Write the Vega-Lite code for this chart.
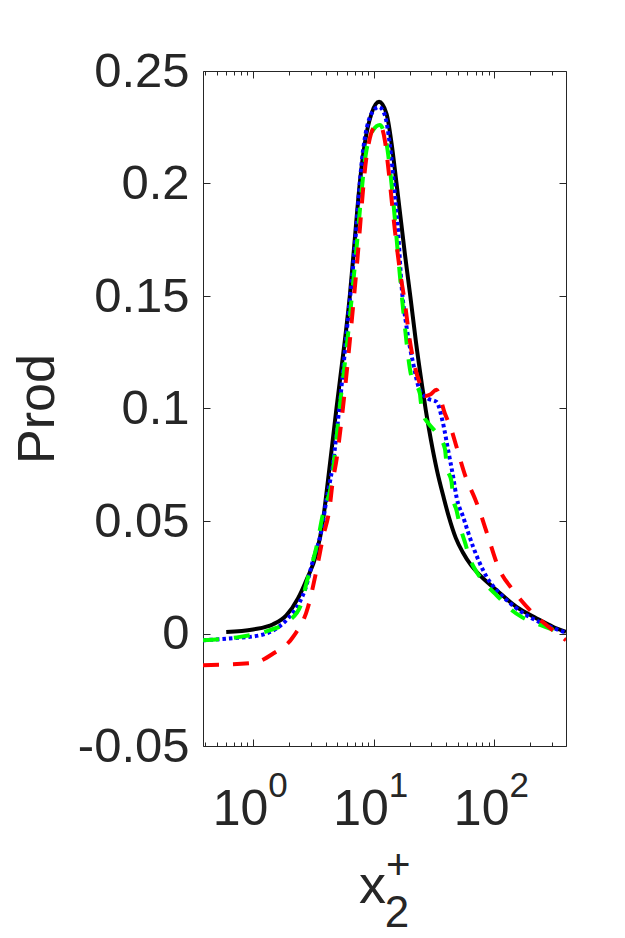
{
  "$schema": "https://vega.github.io/schema/vega-lite/v6.json",
  "width": 363,
  "height": 675,
  "autosize": {"type": "none"},
  "padding": {"left": 203, "top": 71, "right": 59, "bottom": 192},
  "background": "white",
  "config": {
    "view": {"stroke": null},
    "axis": {
      "grid": false,
      "domainColor": "#262626",
      "tickColor": "#262626",
      "labelColor": "#262626",
      "titleColor": "#262626",
      "labelFont": "Liberation Sans",
      "titleFont": "Liberation Sans",
      "domainWidth": 1,
      "tickWidth": 1
    }
  },
  "datasets": {
    "black": [
      {"x": 0.6, "y": 0.0007}, {"x": 1.0, "y": 0.0018}, {"x": 1.47, "y": 0.0041}, {"x": 1.89, "y": 0.0081},
      {"x": 2.36, "y": 0.0156}, {"x": 2.77, "y": 0.0237}, {"x": 3.36, "y": 0.0356}, {"x": 3.81, "y": 0.0504},
      {"x": 4.06, "y": 0.062}, {"x": 4.92, "y": 0.1}, {"x": 5.77, "y": 0.13}, {"x": 6.35, "y": 0.15},
      {"x": 6.85, "y": 0.17}, {"x": 7.68, "y": 0.2}, {"x": 8.45, "y": 0.2178}, {"x": 9.6, "y": 0.231},
      {"x": 11.1, "y": 0.2363}, {"x": 12.8, "y": 0.231}, {"x": 14.1, "y": 0.2178}, {"x": 15.5, "y": 0.2},
      {"x": 18.3, "y": 0.1674}, {"x": 20.2, "y": 0.1496}, {"x": 22.4, "y": 0.13}, {"x": 25.1, "y": 0.111},
      {"x": 27.1, "y": 0.0992}, {"x": 29.9, "y": 0.0859}, {"x": 33.5, "y": 0.0726}, {"x": 38.3, "y": 0.06},
      {"x": 42.0, "y": 0.052}, {"x": 48.0, "y": 0.0425}, {"x": 55.0, "y": 0.036}, {"x": 64.0, "y": 0.0305},
      {"x": 76.0, "y": 0.0259}, {"x": 105.0, "y": 0.0192}, {"x": 153.0, "y": 0.0118}, {"x": 225.0, "y": 0.0067},
      {"x": 309.0, "y": 0.0029}, {"x": 394.0, "y": 0.0007}
    ],
    "blue": [
      {"x": 0.385, "y": -0.003}, {"x": 0.64, "y": -0.0022}, {"x": 1.14, "y": -0.0008}, {"x": 1.56, "y": 0.0022},
      {"x": 1.95, "y": 0.0067}, {"x": 2.44, "y": 0.014}, {"x": 2.69, "y": 0.0192}, {"x": 3.15, "y": 0.0326},
      {"x": 3.7, "y": 0.0459}, {"x": 4.06, "y": 0.0592}, {"x": 4.56, "y": 0.074}, {"x": 5.24, "y": 0.102},
      {"x": 6.15, "y": 0.1407}, {"x": 6.76, "y": 0.163}, {"x": 8.18, "y": 0.2148}, {"x": 9.6, "y": 0.231},
      {"x": 11.1, "y": 0.234}, {"x": 12.4, "y": 0.2304}, {"x": 13.6, "y": 0.2178}, {"x": 15.0, "y": 0.1956},
      {"x": 16.0, "y": 0.178}, {"x": 17.0, "y": 0.1556}, {"x": 18.8, "y": 0.136}, {"x": 21.3, "y": 0.12},
      {"x": 24.2, "y": 0.108}, {"x": 28.3, "y": 0.1044}, {"x": 33.2, "y": 0.103}, {"x": 37.7, "y": 0.0933},
      {"x": 41.5, "y": 0.0815}, {"x": 45.7, "y": 0.0696}, {"x": 48.7, "y": 0.0607}, {"x": 55.3, "y": 0.0518},
      {"x": 66.9, "y": 0.0385}, {"x": 86.5, "y": 0.0252}, {"x": 119.0, "y": 0.0163}, {"x": 186.0, "y": 0.0081},
      {"x": 272.0, "y": 0.0037}, {"x": 394.0, "y": 0.0003}
    ],
    "green": [
      {"x": 0.385, "y": -0.003}, {"x": 0.78, "y": -0.0015}, {"x": 1.38, "y": 0.0015}, {"x": 2.02, "y": 0.0059},
      {"x": 2.52, "y": 0.0133}, {"x": 2.77, "y": 0.0222}, {"x": 3.36, "y": 0.0385}, {"x": 3.81, "y": 0.0533},
      {"x": 4.47, "y": 0.0667}, {"x": 5.24, "y": 0.1007}, {"x": 6.15, "y": 0.1333}, {"x": 6.98, "y": 0.163},
      {"x": 8.73, "y": 0.2148}, {"x": 9.9, "y": 0.2237}, {"x": 11.25, "y": 0.226}, {"x": 12.8, "y": 0.2178},
      {"x": 13.6, "y": 0.2074}, {"x": 14.7, "y": 0.1896}, {"x": 16.0, "y": 0.1674}, {"x": 17.6, "y": 0.1437},
      {"x": 20.6, "y": 0.1141}, {"x": 24.2, "y": 0.1067}, {"x": 24.6, "y": 0.1032}, {"x": 26.1, "y": 0.0966},
      {"x": 28.3, "y": 0.0936}, {"x": 34.3, "y": 0.0881}, {"x": 39.0, "y": 0.0822}, {"x": 40.5, "y": 0.074},
      {"x": 44.3, "y": 0.0674}, {"x": 45.7, "y": 0.06}, {"x": 48.7, "y": 0.0548}, {"x": 52.2, "y": 0.0475},
      {"x": 57.1, "y": 0.0407}, {"x": 62.8, "y": 0.0333}, {"x": 71.3, "y": 0.0274}, {"x": 86.5, "y": 0.0215},
      {"x": 104.7, "y": 0.017}, {"x": 134.5, "y": 0.0111}, {"x": 168.5, "y": 0.0074}, {"x": 225.0, "y": 0.0044},
      {"x": 290.0, "y": 0.0022}, {"x": 394.0, "y": -0.0005}
    ],
    "red": [
      {"x": 0.385, "y": -0.0141}, {"x": 1.0, "y": -0.0131}, {"x": 1.47, "y": -0.0089}, {"x": 2.15, "y": -0.0015},
      {"x": 2.86, "y": 0.0118}, {"x": 3.36, "y": 0.0281}, {"x": 3.81, "y": 0.0429}, {"x": 4.33, "y": 0.0563},
      {"x": 4.56, "y": 0.0667}, {"x": 4.92, "y": 0.077}, {"x": 5.58, "y": 0.1007}, {"x": 6.35, "y": 0.13},
      {"x": 7.21, "y": 0.1615}, {"x": 8.73, "y": 0.2118}, {"x": 10.2, "y": 0.2252}, {"x": 11.25, "y": 0.226},
      {"x": 12.4, "y": 0.2192}, {"x": 13.4, "y": 0.2044}, {"x": 14.5, "y": 0.1867}, {"x": 15.7, "y": 0.1704},
      {"x": 16.5, "y": 0.1615}, {"x": 18.2, "y": 0.1467}, {"x": 20.0, "y": 0.13}, {"x": 22.0, "y": 0.1185},
      {"x": 24.2, "y": 0.111}, {"x": 26.6, "y": 0.1055}, {"x": 29.5, "y": 0.1062}, {"x": 33.2, "y": 0.1083},
      {"x": 39.0, "y": 0.0978}, {"x": 44.3, "y": 0.0904}, {"x": 48.7, "y": 0.083}, {"x": 58.0, "y": 0.0696},
      {"x": 69.2, "y": 0.06}, {"x": 73.6, "y": 0.0563}, {"x": 89.2, "y": 0.0429}, {"x": 108.0, "y": 0.0296},
      {"x": 144.0, "y": 0.0192}, {"x": 211.0, "y": 0.0089}, {"x": 272.0, "y": 0.0037}, {"x": 394.0, "y": -0.003}
    ],
    "exponents": [
      {"t": 1, "e": "0"}, {"t": 10, "e": "1"}, {"t": 100, "e": "2"}
    ],
    "one": [{}]
  },
  "resolve": {"axis": {"x": "independent", "y": "independent"}},
  "layer": [
    {
      "data": {"name": "black"},
      "mark": {"type": "line", "color": "#000000", "strokeWidth": 4, "interpolate": "monotone", "clip": true},
      "encoding": {
        "x": {
          "field": "x", "type": "quantitative",
          "scale": {"type": "log", "domain": [0.385, 394], "nice": false},
          "axis": {
            "orient": "bottom",
            "values": [0.4, 0.5, 0.6, 0.7, 0.8, 0.9, 1, 2, 3, 4, 5, 6, 7, 8, 9, 10, 20, 30, 40, 50, 60, 70, 80, 90, 100, 200, 300],
            "tickSize": {"condition": {"test": "datum.value == 1 || datum.value == 10 || datum.value == 100", "value": -7}, "value": -4},
            "labelExpr": "(datum.value == 1 || datum.value == 10 || datum.value == 100) ? '10' : ''",
            "labelFontSize": 50,
            "labelOffset": -13,
            "labelPadding": 85,
            "labelBaseline": "alphabetic",
            "labelFlush": false,
            "labelOverlap": false,
            "title": "x",
            "titleFontSize": 54,
            "titleFontWeight": "normal",
            "titleX": 169,
            "titleY": 156,
            "titleBaseline": "alphabetic",
            "titleAlign": "center"
          }
        },
        "y": {
          "field": "y", "type": "quantitative",
          "scale": {"domain": [-0.05, 0.25], "nice": false, "zero": false},
          "axis": {
            "orient": "left",
            "values": [-0.05, 0, 0.05, 0.1, 0.15, 0.2, 0.25],
            "tickSize": -7,
            "labelExpr": "datum.value < 0 ? '-0.05' : format(datum.value, '~g')",
            "labelFontSize": 49,
            "labelPadding": 21,
            "labelFlush": false,
            "labelOverlap": false,
            "title": "Prod",
            "titleFontSize": 52,
            "titleFontWeight": "normal",
            "titleAngle": -90,
            "titleX": -150,
            "titleY": 337.5,
            "titleBaseline": "alphabetic",
            "titleAlign": "center"
          }
        }
      }
    },
    {
      "data": {"name": "blue"},
      "mark": {"type": "line", "color": "#0000ff", "strokeWidth": 4, "strokeDash": [3.5, 3], "interpolate": "monotone", "clip": true},
      "encoding": {
        "x": {
          "field": "x", "type": "quantitative",
          "axis": {
            "orient": "top",
            "values": [0.4, 0.5, 0.6, 0.7, 0.8, 0.9, 1, 2, 3, 4, 5, 6, 7, 8, 9, 10, 20, 30, 40, 50, 60, 70, 80, 90, 100, 200, 300],
            "tickSize": {"condition": {"test": "datum.value == 1 || datum.value == 10 || datum.value == 100", "value": -7}, "value": -4},
            "labels": false,
            "title": null
          }
        },
        "y": {
          "field": "y", "type": "quantitative",
          "axis": {
            "orient": "right",
            "values": [-0.05, 0, 0.05, 0.1, 0.15, 0.2, 0.25],
            "tickSize": -7,
            "labels": false,
            "title": null
          }
        }
      }
    },
    {
      "data": {"name": "green"},
      "mark": {"type": "line", "color": "#00ff00", "strokeWidth": 4, "strokeDash": [16, 15], "interpolate": "monotone", "clip": true},
      "encoding": {
        "x": {"field": "x", "type": "quantitative", "axis": null},
        "y": {"field": "y", "type": "quantitative", "axis": null}
      }
    },
    {
      "data": {"name": "red"},
      "mark": {"type": "line", "color": "#ff0000", "strokeWidth": 4, "strokeDash": [16, 14], "interpolate": "monotone", "clip": true},
      "encoding": {
        "x": {"field": "x", "type": "quantitative", "axis": null},
        "y": {"field": "y", "type": "quantitative", "axis": null}
      }
    },
    {
      "data": {"name": "exponents"},
      "mark": {"type": "text", "font": "Liberation Sans", "fontSize": 35, "color": "#262626", "align": "center", "baseline": "alphabetic", "dx": 25, "dy": 51},
      "encoding": {
        "x": {"field": "t", "type": "quantitative", "axis": null},
        "y": {"datum": -0.05, "type": "quantitative", "axis": null},
        "text": {"field": "e"}
      }
    },
    {
      "data": {"name": "one"},
      "mark": {"type": "text", "text": "2", "font": "Liberation Sans", "fontSize": 44, "color": "#262626", "align": "center", "baseline": "alphabetic", "dy": 181},
      "encoding": {
        "x": {"datum": 15.6, "type": "quantitative", "axis": null},
        "y": {"datum": -0.05, "type": "quantitative", "axis": null}
      }
    },
    {
      "data": {"name": "one"},
      "mark": {"type": "text", "text": "+", "font": "Liberation Sans", "fontSize": 42, "color": "#262626", "align": "center", "baseline": "alphabetic", "dy": 133},
      "encoding": {
        "x": {"datum": 16.0, "type": "quantitative", "axis": null},
        "y": {"datum": -0.05, "type": "quantitative", "axis": null}
      }
    }
  ]
}
